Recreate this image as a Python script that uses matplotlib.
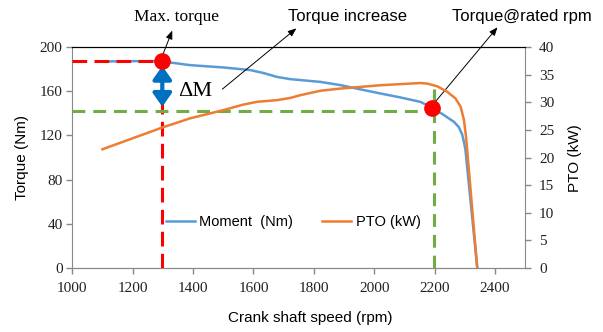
import matplotlib
matplotlib.use('Agg')
import matplotlib.pyplot as plt

# data
rpm_m = [1100, 1200, 1296, 1324, 1390, 1501, 1590, 1634, 1678, 1722, 1755, 1822,
         1888, 1955, 2021, 2087, 2153, 2190, 2231, 2264, 2280, 2291, 2297, 2302, 2341]
moment = [187.0, 187.3, 187.3, 186.1, 183.7, 181.6, 179.2, 176.5, 173.0, 171.0,
          170.2, 168.5, 165.6, 161.7, 158.0, 154.4, 150.4, 145.5, 138.4, 132.3,
          127.5, 121.0, 114.0, 106.7, 0]

rpm_p = [1100, 1296, 1390, 1501, 1567, 1612, 1678, 1722, 1755, 1822, 1888, 1955,
         2021, 2087, 2153, 2175, 2209, 2242, 2269, 2286, 2297, 2304, 2341]
pto = [21.5, 25.4, 27.1, 28.6, 29.6, 30.1, 30.4, 30.8, 31.3, 32.1, 32.5, 32.8,
       33.1, 33.3, 33.5, 33.4, 32.9, 31.9, 30.7, 29.2, 26.8, 23.7, 0]

max_torque = (1298, 187.3)
rated = (2190, 145)
rated_rpm = 2197
rated_torque = 142.5
green_top = 163

serif = 'Liberation Serif'
sans = 'Liberation Sans'
gray = '#898989'

fig = plt.figure(figsize=(6.03, 3.32), dpi=100)
ax = fig.add_axes([0.1199, 0.193, 0.7512, 0.665])
ax2 = ax.twinx()

ax.set_xlim(1000, 2500)
ax.set_ylim(0, 200)
ax2.set_ylim(0, 40)
ax.set_xticks(range(1000, 2600, 200))
ax.set_yticks(range(0, 240, 40))
ax2.set_yticks(range(0, 45, 5))

for a in (ax, ax2):
    for s in ('left', 'bottom', 'right'):
        a.spines[s].set_color(gray)
    a.spines['top'].set_color('black')
    a.tick_params(colors=gray, length=4, width=1, direction='out',
                  labelcolor='#222222', labelsize=11)
    for lab in a.get_xticklabels() + a.get_yticklabels():
        lab.set_fontfamily(serif)
ax2.spines['left'].set_visible(False)
ax.spines['right'].set_visible(False)
ax.tick_params(axis='y', pad=3)
ax2.tick_params(axis='y', pad=6)
ax.tick_params(axis='x', pad=6)

l1, = ax.plot(rpm_m, moment, color='#5B9BD5', lw=1.8, label='Moment  (Nm)',
              solid_joinstyle='round')
l2, = ax2.plot(rpm_p, pto, color='#ED7D31', lw=1.8, label='PTO (kW)',
               solid_joinstyle='round')

# guide lines
ax.plot([1000, max_torque[0]], [max_torque[1], max_torque[1]], color='#FF0000',
        lw=2.2, ls=(0, (4.8, 2.4)), zorder=3)
ax.plot([max_torque[0], max_torque[0]], [0, max_torque[1]], color='#FF0000',
        lw=2.2, ls=(0, (4.8, 2.4)), zorder=3)
ax.plot([1000, rated_rpm], [rated_torque, rated_torque], color='#70AD47',
        lw=2.2, ls=(0, (4.2, 2.6)), zorder=3)
ax.plot([rated_rpm, rated_rpm], [0, green_top], color='#70AD47',
        lw=2.2, ls=(0, (4.2, 2.6)), zorder=3)

# torque increase arrow
ax.annotate('', xy=(1298, 146), xytext=(1298, 183),
            arrowprops=dict(arrowstyle='<|-|>,head_length=0.5,head_width=0.35',
                            color='#0070C0', lw=3, mutation_scale=16,
                            shrinkA=0, shrinkB=0), zorder=4)
ax.plot(*max_torque, 'o', color='#FF0000', ms=11, zorder=5)
ax.plot(*rated, 'o', color='#FF0000', ms=11, zorder=5)
ax.text(1350, 160, 'ΔM', fontfamily=serif, fontsize=16, va='center', ha='left')

# callout arrows
arrow_kw = dict(arrowstyle='-|>,head_length=0.5,head_width=0.2', color='black',
                lw=0.7, mutation_scale=10, shrinkA=0, shrinkB=0)
ax.annotate('', xy=(1331, 215), xytext=(1298, 192), arrowprops=arrow_kw,
            annotation_clip=False)
ax.annotate('', xy=(1742, 217), xytext=(1497, 162), arrowprops=arrow_kw,
            annotation_clip=False)
ax.annotate('', xy=(2408, 218), xytext=(2190, 146.5), arrowprops=arrow_kw,
            annotation_clip=False)

fig.text(177 / 603, 1 - 17 / 332, 'Max. torque', fontfamily=serif, fontsize=12.5,
         ha='center', va='center')
fig.text(347.5 / 603, 1 - 17 / 332, 'Torque increase', fontfamily=sans,
         fontsize=12, ha='center', va='center')
fig.text(521.5 / 603, 1 - 17 / 332, 'Torque@rated rpm', fontfamily=sans,
         fontsize=12, ha='center', va='center')

fig.text(22 / 603, 1 - 158 / 332, 'Torque (Nm)', fontfamily=sans, fontsize=11,
         rotation=90, ha='center', va='center')
fig.text(575 / 603, 1 - 158 / 332, 'PTO (kW)', fontfamily=sans, fontsize=11,
         rotation=90, ha='center', va='center')
fig.text(310 / 603, 1 - 318 / 332, 'Crank shaft speed (rpm)', fontfamily=sans,
         fontsize=11, ha='center', va='center')

leg = ax2.legend(handles=[l1, l2], loc='center left', bbox_to_anchor=(0.203, 0.208),
                 ncol=2, frameon=True, borderpad=0.1, borderaxespad=0,
                 handlelength=2.0, handletextpad=0.3, columnspacing=2.0,
                 prop={'family': sans, 'size': 10.5})
leg.get_frame().set_edgecolor('none')
leg.get_frame().set_facecolor('white')
leg.get_frame().set_alpha(1)

fig.savefig('out.png', dpi=100)
